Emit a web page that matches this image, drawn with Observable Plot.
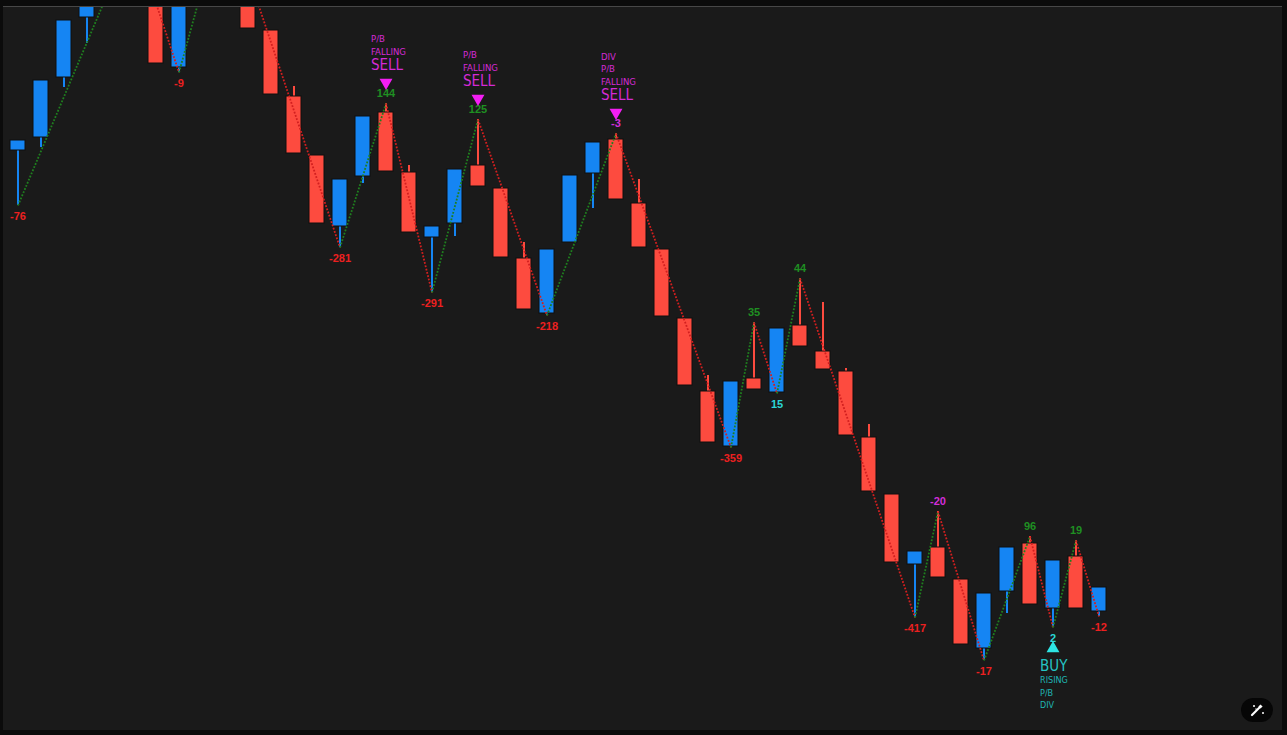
<!DOCTYPE html>
<html>
<head>
<meta charset="utf-8">
<script src="https://cdn.jsdelivr.net/npm/d3@7"></script>
<script src="https://cdn.jsdelivr.net/npm/@observablehq/plot@0.6"></script>
<style>
  html, body { margin: 0; padding: 0; background: #0b0b0b; width: 1287px; height: 735px; overflow: hidden; }
  #frame { position: absolute; left: 3px; top: 6px; width: 1279px; height: 723px; background: #1a1a1a; border-top: 1px solid #474747; }
  #chart svg { display: block; }
  #wand { position: absolute; left: 1241px; top: 698px; width: 32px; height: 24px; border-radius: 12px; background: #060606; }
</style>
</head>
<body>
<div id="frame"><div id="chart"></div></div>
<div id="wand">
  <svg width="32" height="24" viewBox="0 0 32 24">
    <line x1="11" y1="17" x2="19" y2="9" stroke="#ffffff" stroke-width="2.2" stroke-linecap="round"/>
    <rect x="18" y="7" width="3" height="3" fill="#ffffff" transform="rotate(45 19.5 8.5)"/>
    <circle cx="13" cy="8" r="1" fill="#ffffff"/>
    <circle cx="22" cy="15" r="1" fill="#ffffff"/>
    <circle cx="15" cy="11" r="0.7" fill="#ffffff"/>
  </svg>
</div>
<script>
// ---- data ----
const candleIndex = d3.range(1, 49);
const open  = [590,603,663,723,755,785,770,673,750,800,755,710,644,585,514,564,628,568,503,517,575,552,482,427,498,567,601,537,491,422,349,294,362,348,415,389,369,303,246,176,193,161,92,149,197,132,184,129];
const close = [600,660,720,760,795,802,677,760,800,770,712,646,587,517,561,624,569,508,514,571,554,483,431,491,565,598,541,493,424,355,298,359,351,412,394,371,305,249,178,189,163,96,147,193,136,180,132,153];
const high  = [600,660,720,765,800,807,780,765,805,835,760,710,654,585,561,624,637,575,514,571,621,552,498,491,565,598,607,561,491,422,365,359,418,412,462,438,372,316,246,189,229,161,147,193,204,180,200,153];
const low   = [535,593,653,697,750,780,677,668,745,765,712,646,587,517,493,557,569,508,448,504,554,483,431,425,498,532,541,493,424,355,298,293,351,347,394,371,305,249,178,123,163,96,80,127,136,113,132,124];

const pivotIndex = [1,6,8,10,15,17,19,21,24,27,32,33,34,35,40,41,43,45,46,47,48];
const pivotKind  = ["L","H","L","H","L","H","L","H","L","H","L","H","L","H","L","H","L","H","L","H","L"];
const pivotLabel = [-76,null,-9,null,-281,144,-291,125,-218,-3,-359,35,15,44,-417,-20,-17,96,2,19,-12];

const signalIndex = [17,21,27,46];
const signalWord  = ["SELL","SELL","SELL","BUY"];
const signalTags  = [["P/B","FALLING"],["P/B","FALLING"],["DIV","P/B","FALLING"],["RISING","P/B","DIV"]];

// ---- styles ----
const BLUE = "#1585f3", RED = "#fd4b3f";
const ZZ_GREEN = "#1f7f1f", ZZ_RED = "#d21f1f";
const LBL_GREEN = "#1f8f22", LBL_RED = "#ec2020", LBL_MAG = "#d22ed8", LBL_CYAN = "#2ad6d6";
const MAG = "#d42ad6", MAG_TRI = "#f41ef4", CYAN = "#25c4c4", CYAN_TAG = "#1fb4b4", CYAN_TRI = "#2ee4e4";
const NARROW = "'Liberation Sans Narrow', 'Arial Narrow', 'DejaVu Sans Condensed', sans-serif";
const SANS = "'Liberation Sans', Arial, sans-serif";

// ---- derived tables ----
const candles = candleIndex.map((i, k) => ({i, open: open[k], close: close[k], high: high[k], low: low[k], up: close[k] >= open[k]}));
const pivots = pivotIndex.map((i, k) => ({i, kind: pivotKind[k], label: pivotLabel[k], p: pivotKind[k] === "H" ? high[i - 1] : low[i - 1]}));
const segments = pivots.slice(1).map((b, k) => {
  const a = pivots[k];
  return {i1: a.i, p1: a.p, i2: b.i, p2: b.p, up: b.p > a.p};
});
const highLabels = pivots.filter(d => d.kind === "H" && d.label !== null);
const lowLabels  = pivots.filter(d => d.kind === "L" && d.label !== null);

const signals = signalIndex.map((i, k) => ({i, word: signalWord[k], tags: signalTags[k], sell: signalWord[k] === "SELL",
  p: signalWord[k] === "SELL" ? high[i - 1] : low[i - 1]}));
const sells = signals.filter(d => d.sell), buys = signals.filter(d => !d.sell);

// tag lines by level (0 = nearest to the signal word)
function tagLevel(list, k, sell) {
  return list.flatMap(s => {
    const ordered = sell ? [...s.tags].reverse() : s.tags;
    return ordered[k] ? [{i: s.i, p: s.p, t: ordered[k]}] : [];
  });
}
const tagMarks = [];
for (let k = 0; k < 3; k++) {
  tagMarks.push(Plot.text(tagLevel(sells, k, true), {x: "i", y: "p", text: "t", dy: -52 - 12.5 * k, dx: -15, textAnchor: "start",
    fill: MAG, fontSize: 9.5, fontFamily: NARROW}));
  tagMarks.push(Plot.text(tagLevel(buys, k, false), {x: "i", y: "p", text: "t", dy: 53 + 12.3 * k, dx: -13, textAnchor: "start",
    fill: CYAN_TAG, fontSize: 9, fontFamily: NARROW}));
}

const chart = Plot.plot({
  width: 1279,
  height: 723,
  marginTop: 0, marginBottom: 0, marginLeft: 0.5, marginRight: 169.5,
  style: {background: "transparent"},
  x: {type: "band", domain: candleIndex, paddingInner: 0.35, paddingOuter: 0.175, align: 0.5, axis: null},
  y: {domain: [10, 733], axis: null},
  marks: [
    Plot.ruleX(candles, {x: "i", y1: "low", y2: "high", stroke: d => d.up ? BLUE : RED, strokeWidth: 2, clip: true}),
    Plot.barY(candles, {x: "i", y1: "open", y2: "close", fill: d => d.up ? BLUE : RED, stroke: "#0f0f0f", strokeWidth: 1, clip: true}),
    Plot.link(segments, {x1: "i1", y1: "p1", x2: "i2", y2: "p2", stroke: d => d.up ? ZZ_GREEN : ZZ_RED,
      strokeWidth: 1.8, strokeDasharray: "1.8,1.6", clip: true}),
    Plot.text(highLabels, {x: "i", y: "p", text: d => String(d.label), dy: -10, fill: d => d.label < 0 ? LBL_MAG : LBL_GREEN,
      fontSize: 11, fontWeight: "bold", fontFamily: SANS}),
    Plot.text(lowLabels, {x: "i", y: "p", text: d => String(d.label), dy: 11, fill: d => d.label > 0 ? LBL_CYAN : LBL_RED,
      fontSize: 11, fontWeight: "bold", fontFamily: SANS}),
    Plot.dot(sells, {x: "i", y: "p", symbol: "triangle", rotate: 180, r: 4.8, fill: MAG_TRI, dy: -21}),
    Plot.dot(buys, {x: "i", y: "p", symbol: "triangle", r: 4.8, fill: CYAN_TRI, dy: 21}),
    Plot.text(sells, {x: "i", y: "p", text: "word", dy: -38, dx: -15, textAnchor: "start", fill: MAG, fontSize: 15, fontFamily: NARROW}),
    Plot.text(buys, {x: "i", y: "p", text: "word", dy: 39, dx: -13, textAnchor: "start", fill: CYAN, fontSize: 15, fontFamily: NARROW}),
    ...tagMarks
  ]
});
document.getElementById("chart").appendChild(chart);
</script>
</body>
</html>
